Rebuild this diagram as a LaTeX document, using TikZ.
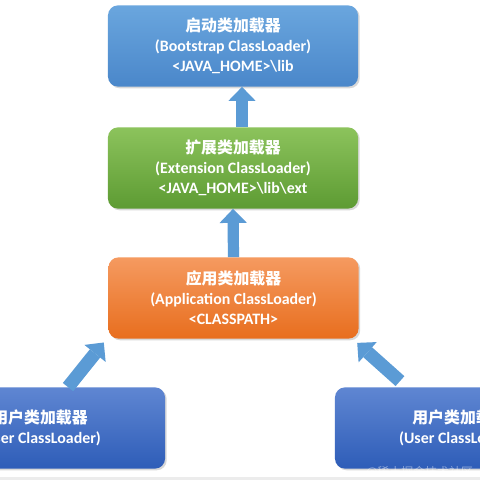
\documentclass[tikz,border=0pt]{standalone}
\usepackage{fontspec}
\setmainfont{Carlito}
\newfontfamily\cjk{Noto Sans CJK SC}
\usetikzlibrary{arrows.meta, positioning, shadows}

\definecolor{bootTop}{HTML}{6AA6DE}
\definecolor{bootBot}{HTML}{4A87CA}
\definecolor{extTop}{HTML}{8CC35C}
\definecolor{extBot}{HTML}{5D9B33}
\definecolor{appTop}{HTML}{F59A60}
\definecolor{appBot}{HTML}{E86E1E}
\definecolor{userTop}{HTML}{5F86D2}
\definecolor{userBot}{HTML}{2E5DB8}
\definecolor{arrowBlue}{HTML}{5B9BD5}

\newcommand{\cn}[1]{{\cjk\bfseries\fontsize{11.3}{14}\selectfont #1}}

\begin{document}
\begin{tikzpicture}[
  x=0.025cm, y=-0.025cm,
  loader/.style 2 args={rounded corners=0.25cm, minimum width=6.25cm, minimum height=2.03cm,
                top color=#1, bottom color=#2, text=white, align=center,
                font=\bfseries\fontsize{11.3}{14.2}\selectfont,
                drop shadow={opacity=0.3, shadow xshift=1.2pt, shadow yshift=-1.2pt}},
  arrow/.style={draw=arrowBlue, line width=0.28cm,
                -{Triangle[length=0.35cm, width=0.68cm, line width=0pt, fill=arrowBlue]}},
]
  \useasboundingbox (0,0) rectangle (480,480);
  \clip (0,0) rectangle (480,480);
  \fill[white] (0,0) rectangle (480,480);

  \node[loader={bootTop}{bootBot}] (boot) at (233,46)
    {\cn{启动类加载器}\\(Bootstrap ClassLoader)\\<JAVA\_HOME>\textbackslash lib};
  \node[loader={extTop}{extBot}] (ext) at (233,168)
    {\cn{扩展类加载器}\\(Extension ClassLoader)\\<JAVA\_HOME>\textbackslash lib\textbackslash ext};
  \node[loader={appTop}{appBot}] (app) at (233.5,298)
    {\cn{应用类加载器}\\(Application ClassLoader)\\<CLASSPATH>};
  \node[loader={userTop}{userBot}] (user1) at (40,428)
    {\cn{用户类加载器}\\(User ClassLoader)};
  \node[loader={userTop}{userBot}] (user2) at (460,428)
    {\cn{用户类加载器}\\(User ClassLoader)};

  \draw[arrow] ([xshift=0.225cm]ext.north) -- ([xshift=0.225cm]boot.south);
  \draw[arrow] (app.north) -- (ext.south);
  \draw[arrow, line width=0.33cm] ([xshift=0.7cm]user1.north) -- ([xshift=-0.11cm,yshift=-0.09cm]app.south west);
  \draw[arrow, line width=0.33cm] ([xshift=-1.5cm,yshift=0.15cm]user2.north) -- ([xshift=-0.04cm,yshift=-0.1cm]app.south east);

  % watermark and bottom strip
  \node[anchor=east, text=white, opacity=0.45, font=\cjk\fontsize{8.5}{10}\selectfont] (mark) at (478,472) {@稀土掘金技术社区};
  \fill[gray!15] (0,477) rectangle (480,480);
\end{tikzpicture}
\end{document}
